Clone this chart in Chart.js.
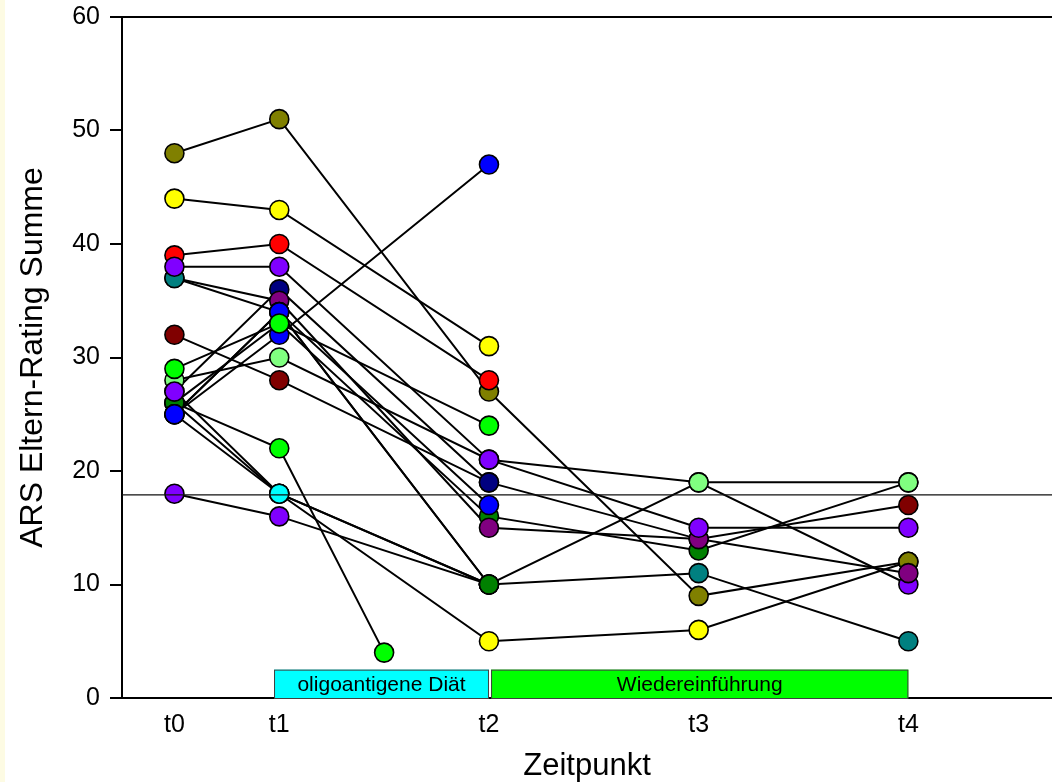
<!DOCTYPE html>
<html>
<head>
<meta charset="utf-8">
<script src="https://cdn.jsdelivr.net/npm/chart.js@4.4.1/dist/chart.umd.min.js"></script>
<style>
    html, body { margin: 0; padding: 0; background: #fff; overflow: hidden; }
    #wrap { width: 1052px; height: 782px; }
</style>
</head>
<body>
<div id="wrap"><canvas id="arsChart" width="1052" height="782"></canvas></div>
<script>
// x-Positionen der Messungen; Index 2 = Zwischenmessung zwischen t1 und t2
const timeX = [0, 1, 2, 3, 5, 7];
const tickX = [0, 1, 3, 5, 7];
const tickLabels = ['t0', 't1', 't2', 't3', 't4'];

// ARS Eltern-Rating Summe pro Kind (null = kein Wert)
const kind01 = [29, 33, null, 24, null, null];
const kind02 = [38, 38, null, 21, 15, 15];
const kind03 = [44, 43, null, 31, null, null];
const kind04 = [25, 32, null, 47, null, null];
const kind05 = [25, 34, null, 17, null, null];
const kind06 = [25, 34, null, 10, null, null];
const kind07 = [25, 18, null, 10, null, null];
const kind08 = [27, 18, null, 10, null, null];
const kind09 = [39, 40, null, 28, null, null];
const kind10 = [37, 34, null, 10, 11, 5];
const kind11 = [37, 35, null, 15, 14, 11];
const kind12 = [28, 30, null, 21, 19, 19];
const kind13 = [27, 36, null, 19, null, null];
const kind14 = [48, 51, null, 27, 9, 12];
const kind15 = [26, 33, null, 16, 13, 19];
const kind16 = [26, 18, null, 5, 6, 12];
const kind17 = [26, 22, 4, null, null, null];
const kind18 = [32, 28, null, 19, 14, 17];
const kind19 = [18, 16, null, 10, 19, 10];

// Grenzwert
const cutoff = 17.9;

// Studienphasen (Balken unten)
const phaseNames = ['oligoantigene Diät', 'Wiedereinführung'];
const phaseStart = [0.95, 3.02];
const phaseEnd = [3, 7];
const phaseHeight = 2.5;

const kinder = [kind01, kind02, kind03, kind04, kind05, kind06, kind07, kind08, kind09, kind10,
    kind11, kind12, kind13, kind14, kind15, kind16, kind17, kind18, kind19];
// Reihenfolge = Zeichenreihenfolge, erstes Kind liegt oben
const farben = ['#00ff00', '#8000ff', '#ffff00', '#0000ff', '#0000ff', '#008000', '#00ffff',
    '#8000ff', '#ff0000', '#008080', '#800080', '#80ff80', '#000080', '#808000', '#008000',
    '#ffff00', '#00ff00', '#800000', '#8000ff'];
const phaseColors = ['#00ffff', '#00ff00'];

const X_MIN = -0.5;
const X_MAX = 8.37;
const FONT = 'Arial, "Liberation Sans", Helvetica, sans-serif';

function toPoints(werte) {
    const pts = [];
    werte.forEach((v, i) => {
        if (v !== null) pts.push({ x: timeX[i], y: v });
    });
    return pts;
}

const datasets = [];
kinder.forEach((werte, i) => {
    // Linie unter allen Punkten
    datasets.push({
        data: toPoints(werte),
        showLine: true,
        borderColor: '#000',
        borderWidth: 2,
        pointRadius: 0,
        order: 100 + i
    });
    datasets.push({
        data: toPoints(werte),
        showLine: false,
        pointRadius: 9.5,
        pointBorderWidth: 1.6,
        pointBorderColor: '#000',
        pointBackgroundColor: farben[i],
        order: i
    });
});
datasets.push({
    data: [{ x: X_MIN, y: cutoff }, { x: X_MAX, y: cutoff }],
    showLine: true,
    borderColor: '#111',
    borderWidth: 1.3,
    pointRadius: 0,
    order: -1
});

const background = {
    id: 'background',
    beforeDraw(chart) {
        const ctx = chart.ctx;
        ctx.save();
        ctx.fillStyle = '#ffffff';
        ctx.fillRect(0, 0, chart.width, chart.height);
        ctx.fillStyle = '#fdfbe3';
        ctx.fillRect(0, 0, 5, chart.height);
        ctx.restore();
    }
};

const frameAndPhases = {
    id: 'frameAndPhases',
    afterDatasetsDraw(chart) {
        const ctx = chart.ctx;
        const x = chart.scales.x;
        const y = chart.scales.y;
        const area = chart.chartArea;
        ctx.save();
        // obere Rahmenlinie
        ctx.strokeStyle = '#000';
        ctx.lineWidth = 2;
        ctx.beginPath();
        ctx.moveTo(area.left, area.top);
        ctx.lineTo(area.right, area.top);
        ctx.stroke();

        phaseNames.forEach((name, i) => {
            const x0 = x.getPixelForValue(phaseStart[i]);
            const x1 = x.getPixelForValue(phaseEnd[i]);
            const y0 = y.getPixelForValue(phaseHeight);
            const y1 = y.getPixelForValue(0);
            ctx.fillStyle = phaseColors[i];
            ctx.fillRect(x0, y0, x1 - x0, y1 - y0);
            ctx.strokeStyle = '#404040';
            ctx.lineWidth = 1;
            ctx.strokeRect(x0 + 0.5, y0 + 0.5, x1 - x0 - 1, y1 - y0);
            ctx.fillStyle = '#000';
            ctx.font = '21px ' + FONT;
            ctx.textAlign = 'center';
            ctx.textBaseline = 'middle';
            ctx.fillText(name, (x0 + x1) / 2, (y0 + y1) / 2 + 1);
        });
        ctx.restore();
    }
};

new Chart(document.getElementById('arsChart'), {
    type: 'line',
    data: { datasets: datasets },
    plugins: [background, frameAndPhases],
    options: {
        responsive: false,
        animation: false,
        layout: { autoPadding: false, padding: { top: 17, right: 0, bottom: 0, left: 0 } },
        plugins: {
            legend: { display: false },
            tooltip: { enabled: false }
        },
        scales: {
            x: {
                type: 'linear',
                min: X_MIN,
                max: X_MAX,
                afterBuildTicks: (axis) => { axis.ticks = tickX.map(v => ({ value: v })); },
                afterFit: (axis) => {
                    axis.height = 84;
                    axis.paddingLeft = 0;
                    axis.paddingRight = 0;
                },
                ticks: {
                    color: '#000',
                    padding: 4,
                    font: { family: FONT, size: 25 },
                    callback: (v) => tickLabels[tickX.indexOf(v)]
                },
                grid: { display: false },
                border: { display: true, color: '#000', width: 2 },
                title: {
                    display: true,
                    text: 'Zeitpunkt',
                    color: '#000',
                    font: { family: FONT, size: 31 },
                    padding: { top: 0, bottom: -3 }
                }
            },
            y: {
                min: 0,
                max: 60,
                afterFit: (axis) => {
                    axis.width = 122;
                    axis.paddingTop = 0;
                    axis.paddingBottom = 0;
                },
                ticks: {
                    stepSize: 10,
                    color: '#000',
                    padding: 10,
                    font: { family: FONT, size: 25 }
                },
                grid: {
                    display: true,
                    drawOnChartArea: false,
                    drawTicks: true,
                    tickLength: 12,
                    color: '#000',
                    lineWidth: 2
                },
                border: { display: true, color: '#000', width: 2 },
                title: {
                    display: true,
                    text: 'ARS Eltern-Rating Summe',
                    color: '#000',
                    font: { family: FONT, size: 32 },
                    padding: { top: 14, bottom: 0 }
                }
            }
        }
    }
});
</script>
</body>
</html>
